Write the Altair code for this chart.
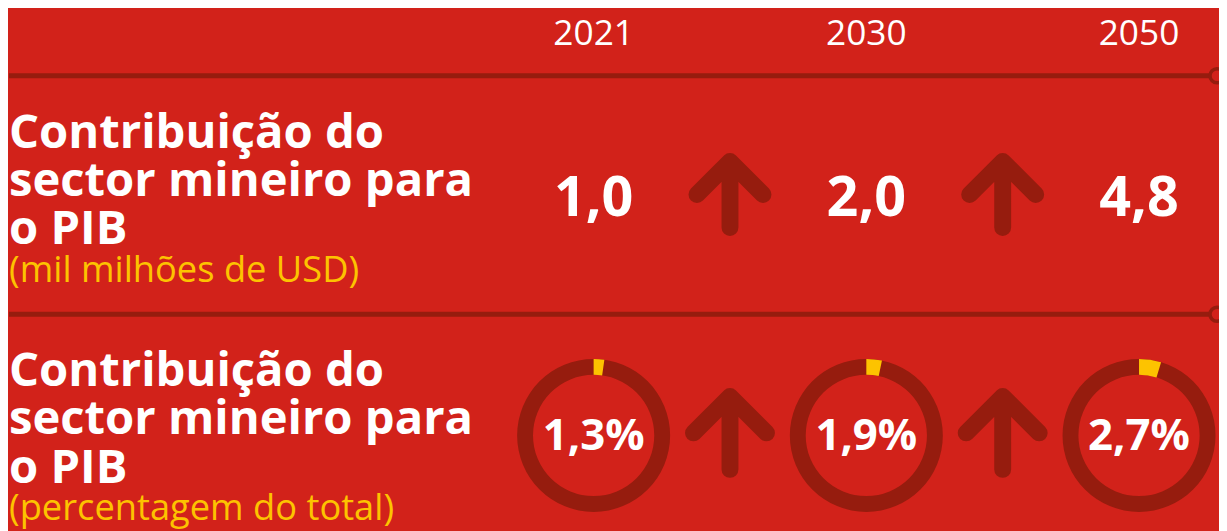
import altair as alt
import pandas as pd

# ---------------- data ----------------
years = ["2021", "2030", "2050"]
gdp_usd_bn = [1.0, 2.0, 4.8]          # mil milhões de USD
gdp_share_pct = [1.3, 1.9, 2.7]       # percentagem do total
row_titles = ["Contribuição do\nsector mineiro para\no PIB",
              "Contribuição do\nsector mineiro para\no PIB"]
row_units = ["(mil milhões de USD)", "(percentagem do total)"]
arrow_slots = ["a1", "a2"]
slot_order = ["2021", "a1", "2030", "a2", "2050"]

# ---------------- style ----------------
BG = "#D2221A"
DARK = "#961C0E"
YELLOW = "#FDC300"
WHITE = "#FFFFFF"
FONT = "Open Sans"
ARROW = "M -1 0 L 0 -1 L 1 0 M 0 -1 L 0 1"

rows_df = pd.DataFrame({"row": [0, 1], "title": row_titles, "unit": row_units})
header_df = pd.DataFrame({"slot": years})
values_df = pd.DataFrame({"slot": years, "row": [0] * 3, "value": gdp_usd_bn})
share_df = pd.DataFrame({"slot": years, "row": [1] * 3, "share": gdp_share_pct,
                         "start": [0.0] * 3})
arrows_df = pd.DataFrame({"slot": arrow_slots * 2, "row": [0, 0, 1, 1]})

X = alt.X("slot:N", scale=alt.Scale(type="point", domain=slot_order,
                                    range=[589.5, 1138.5], padding=0), axis=None)
Y = alt.Y("row:Q", scale=alt.Scale(domain=[0, 1], range=[188.5, 428.5],
                                   nice=False, zero=False), axis=None)

seps = alt.Chart(rows_df).mark_rule(color=DARK, strokeWidth=5, yOffset=-122).encode(
    x=alt.value(1), x2=alt.value(1211), y=Y)

ends = alt.Chart(rows_df).mark_point(shape="circle", size=200, fill=BG, stroke=DARK,
                                     strokeWidth=3.5, opacity=1, fillOpacity=1,
                                     yOffset=-122).encode(x=alt.value(1217), y=Y)

titles = alt.Chart(rows_df).mark_text(
    align="left", baseline="alphabetic", font=FONT, fontWeight="bold", fontSize=47.5,
    lineHeight=48.5, lineBreak="\n", color=WHITE, yOffset=-49.5
).encode(x=alt.value(1), y=Y, text="title:N")

units = alt.Chart(rows_df).mark_text(
    align="left", baseline="alphabetic", font=FONT, fontSize=36.5, color=YELLOW,
    yOffset=85.5
).encode(x=alt.value(1), y=Y, text="unit:N")

headers = alt.Chart(header_df).mark_text(
    align="center", baseline="alphabetic", font=FONT, fontSize=35.5, color=WHITE
).encode(x=X, y=alt.value(36), text="slot:N")

values = alt.Chart(values_df).transform_calculate(
    label="replace(format(datum.value, '.1f'), '.', ',')"
).mark_text(
    align="center", baseline="alphabetic", font=FONT, fontWeight="bold", fontSize=56,
    color=WHITE, yOffset=19
).encode(x=X, y=Y, text="label:N")

ring = alt.Chart(share_df).mark_arc(radius=77, radius2=61, theta=0, theta2=6.2832,
                                    color=DARK).encode(x=X, y=Y)

seg = alt.Chart(share_df).mark_arc(radius=77, radius2=61, color=YELLOW).encode(
    x=X, y=Y,
    theta=alt.Theta("start:Q", scale=alt.Scale(domain=[0, 58], range=[0, 6.2832]),
                    stack=None),
    theta2="share:Q")

pct = alt.Chart(share_df).transform_calculate(
    label="replace(format(datum.share, '.1f'), '.', ',') + '%'"
).mark_text(
    align="center", baseline="alphabetic", font=FONT, fontWeight="bold", fontSize=44,
    color=WHITE, yOffset=14.5
).encode(x=X, y=Y, text="label:N")

arrows = alt.Chart(arrows_df).mark_point(
    shape=ARROW, filled=False, stroke=DARK, strokeWidth=17, strokeCap="round",
    strokeJoin="round", opacity=1, yOffset=-2.5
).encode(x=X, y=Y,
         size=alt.Size("row:Q", scale=alt.Scale(domain=[0, 1], range=[4422, 5402],
                                                zero=False), legend=None))

chart = alt.layer(seps, ends, titles, units, headers, values, ring, seg, pct, arrows).properties(
    width=1219, height=523, padding=0, background=BG, autosize="none"
).configure_view(stroke=None)

chart.save("out.html", embed_options={"renderer": "svg", "actions": False})
